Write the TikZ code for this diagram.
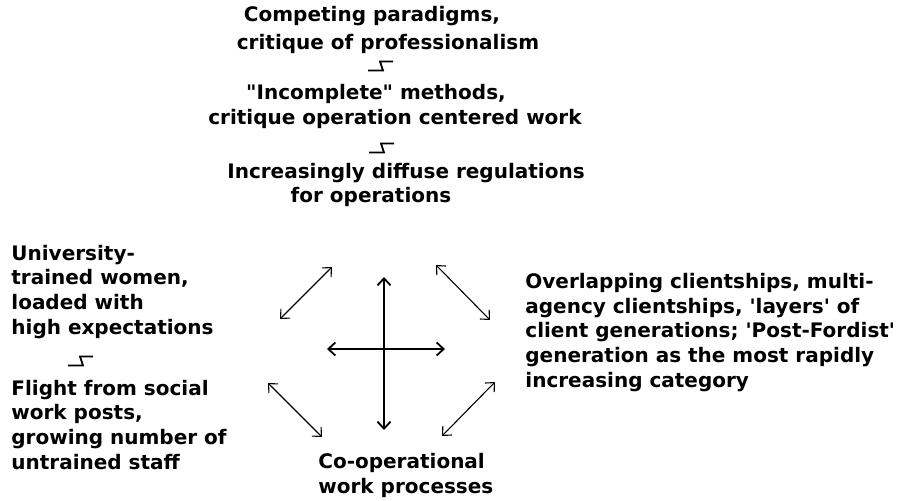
\documentclass[tikz,border=0pt]{standalone}
\usepackage{fontspec}
\setmainfont{DejaVu Sans}
\usetikzlibrary{arrows.meta}

\begin{document}
\begin{tikzpicture}[
    x=0.5pt, y=-0.5pt,
    >={Straight Barb[length=3.5pt, width=6.5pt]},
    txt/.style={font=\bfseries\fontsize{10}{12.3}\selectfont, inner sep=0pt, align=left},
    main_arrow/.style={<->, line width=0.9pt},
    diag_arrow/.style={<->, line width=0.55pt},
    clash/.pic={\draw[line width=0.9pt] (-13,4.5) -- (2,4.5) -- (-1,-4.5) -- (12,-4.5);}
]
\useasboundingbox (0,0) rectangle (918,500);

% 1. top column of tensions
\node[txt, anchor=base] (par1) at (372,21) {Competing paradigms,};
\node[txt, anchor=base] (par2) at (388,49) {critique of professionalism};
\pic at (381,66) {clash};
\node[txt, anchor=base] (met1) at (376,99) {\textquotedbl Incomplete\textquotedbl{} methods,};
\node[txt, anchor=base] (met2) at (395,124) {critique operation centered work};
\pic at (382,148) {clash};
\node[txt, anchor=base] (reg1) at (406,178) {Increasingly diffuse regulations};
\node[txt, anchor=base] (reg2) at (371,202) {for operations};

% 2. left and right sides (base = last line)
\node[txt, anchor=base west] (women) at (11,334) {University-\\trained women,\\loaded with\\high expectations};
\pic at (81,361) {clash};
\node[txt, anchor=base west] (flight) at (11,469) {Flight from social\\work posts,\\growing number of\\untrained staff};
\node[txt, anchor=base west] (clients) at (525,387) {Overlapping clientships, multi-\\agency clientships, \textquotesingle layers\textquotesingle{} of\\client generations; \textquotesingle Post-Fordist\textquotesingle\\generation as the most rapidly\\increasing category};

% 3. bottom
\node[txt, anchor=base west] (coop) at (318,493) {Co-operational\\work processes};

% 4. cross and diagonal arrows
\coordinate (v_top) at (384,277);
\coordinate (v_bot) at (384,430);
\coordinate (h_left) at (327,349);
\coordinate (h_right) at (445,349);
\coordinate (tl_a) at (332,267);
\coordinate (tl_b) at (280,319);
\coordinate (tr_a) at (436,265);
\coordinate (tr_b) at (490,320);
\coordinate (bl_a) at (268,383);
\coordinate (bl_b) at (322,437);
\coordinate (br_a) at (495,382);
\coordinate (br_b) at (442,436);

\draw[main_arrow] (v_top) -- (v_bot);
\draw[main_arrow] (h_left) -- (h_right);
\draw[diag_arrow] (tl_a) -- (tl_b);
\draw[diag_arrow] (tr_a) -- (tr_b);
\draw[diag_arrow] (bl_a) -- (bl_b);
\draw[diag_arrow] (br_a) -- (br_b);

\end{tikzpicture}
\end{document}
